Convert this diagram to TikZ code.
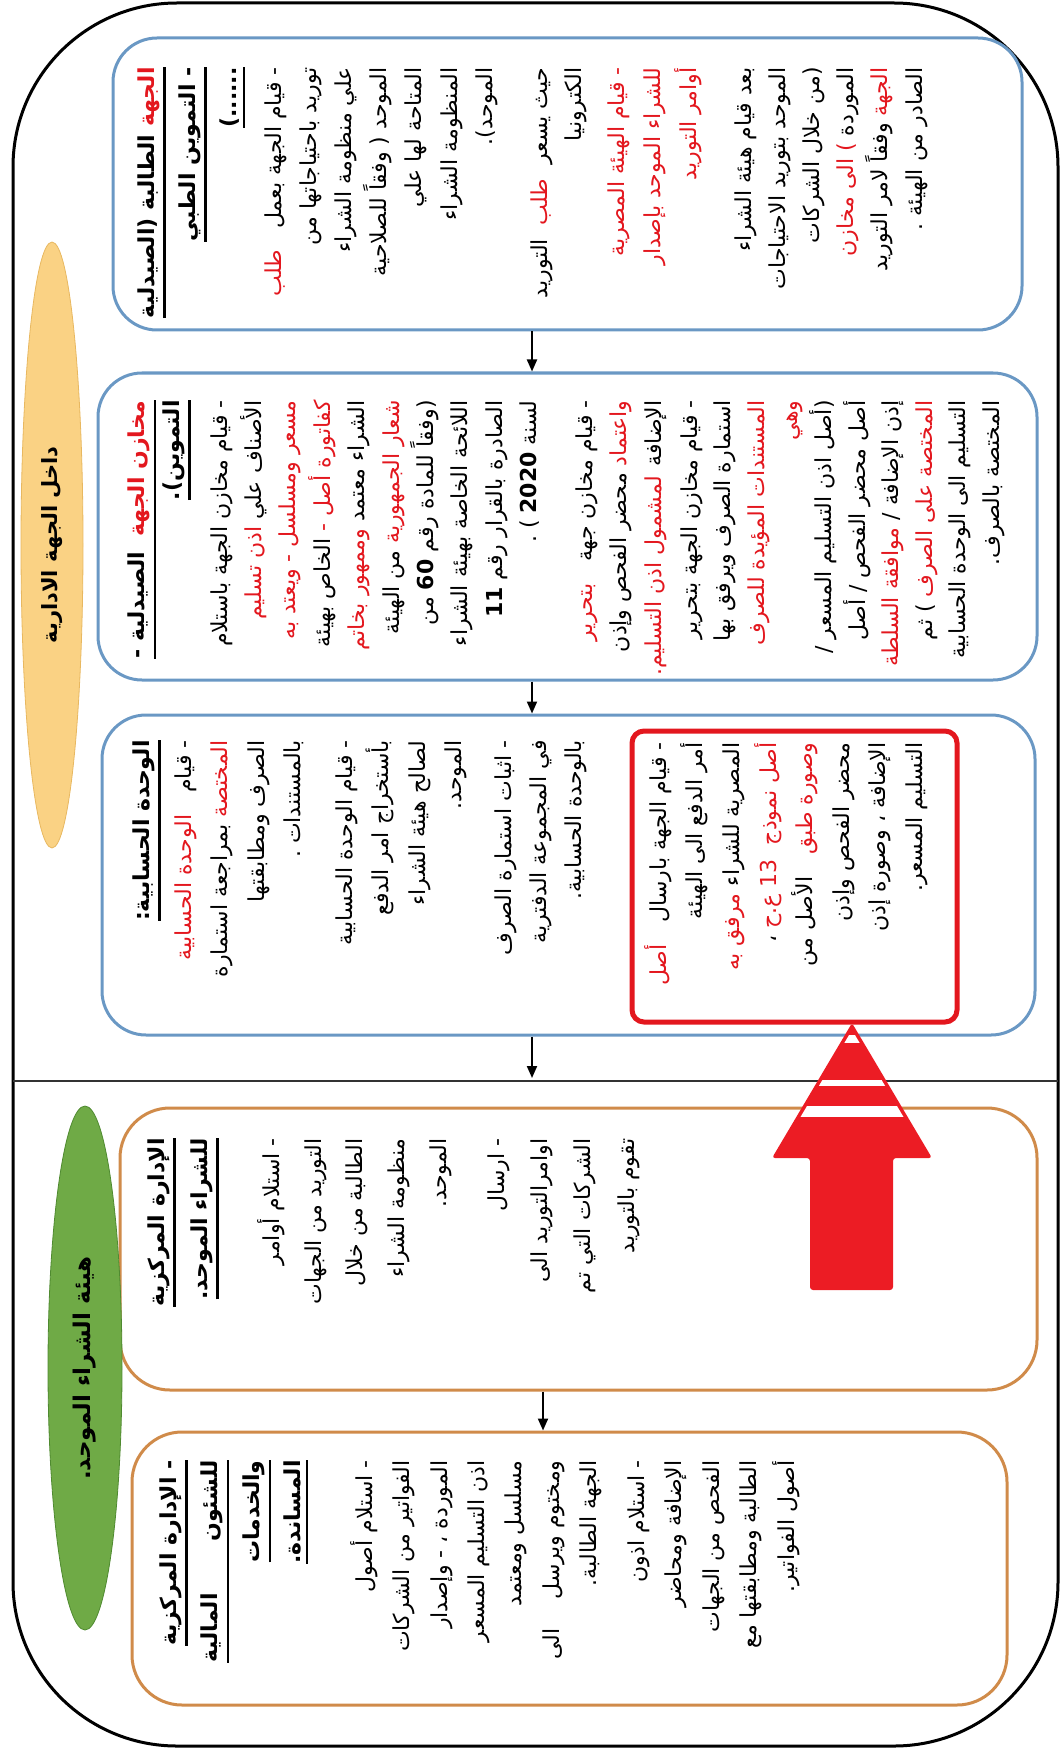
\documentclass[tikz,border=0pt]{standalone}
\usepackage{fontspec}
\usetikzlibrary{positioning,shapes.geometric,arrows.meta}
\TeXXeTstate=1
\newfontfamily\arfont[Script=Arabic]{DejaVu Sans}
\definecolor{arred}{HTML}{E3171E}
\definecolor{boxblue}{HTML}{6A98C4}
\definecolor{boxorange}{HTML}{D08B4A}
\definecolor{ovalyellow}{HTML}{FAD284}
\definecolor{ovalyellowline}{HTML}{E8B860}
\definecolor{ovalgreen}{HTML}{6FAA46}
\definecolor{ovalgreenline}{HTML}{4F8A30}
\definecolor{arrowred}{HTML}{EC1C24}
\newbox\ulbox
% one right-to-left run; runs of a mixed line are written in visual order
\newcommand\arl[1]{\beginR #1\endR}
\newcommand\redw[1]{\textcolor{arred}{\beginR #1\endR}}
\newcommand\uln[1]{\setbox\ulbox\hbox{#1}\vtop{\box\ulbox\kern2pt\hrule height 1.2pt}}

\begin{document}
\begin{tikzpicture}[x=0.5pt, y=-0.5pt]
\tikzstyle{bluebox}=[draw=boxblue, line width=1.5pt, rounded corners=22pt]
\tikzstyle{orangebox}=[draw=boxorange, line width=1.5pt, rounded corners=25pt]
\tikzstyle{redbox}=[draw=arred, line width=2.5pt, rounded corners=6pt]
\tikzstyle{flowarrow}=[line width=1pt, -{Triangle[length=6pt,width=5pt]}]
\tikzset{artext/.style={rotate=90, anchor=north east, align=right, inner sep=0pt,
  font=\arfont\fontsize{11}{#1}\selectfont}, artext/.default=17.5}
\tikzset{artitle/.style={artext=#1, font=\arfont\bfseries\fontsize{11}{#1}\selectfont},
  artitle/.default=17.5}
\useasboundingbox (0,0) rectangle (1064,1749);
% frame and divider
\draw[line width=1.5pt, rounded corners=82pt] (13,3) rectangle (1058,1746);
\draw[line width=0.8pt, black!80] (13,1081) -- (1058,1081);
% boxes
\node[bluebox, minimum width=454.5pt, minimum height=146pt] (A) at (567.5,184) {};
\node[bluebox, minimum width=469.5pt, minimum height=153.5pt] (B) at (567.5,526.5) {};
\node[bluebox, minimum width=466.5pt, minimum height=160pt] (C) at (568.5,875) {};
\node[redbox, minimum width=162.5pt, minimum height=145.5pt] (R) at (794.5,876.5) {};
\node[orangebox, minimum width=458.5pt, minimum height=141pt] (D) at (578.5,1249) {};
\node[orangebox, minimum width=437.5pt, minimum height=136.5pt] (E) at (569.5,1568.5) {};
% ovals
\node[ellipse, draw=ovalyellowline, fill=ovalyellow, minimum width=303pt, minimum height=31pt,
  rotate=90, font=\arfont\bfseries\fontsize{10.5}{13}\selectfont] (inside) at (52,545) {\arl{داخل الجهة الادارية}};
\node[ellipse, draw=ovalgreenline, fill=ovalgreen, minimum width=262pt, minimum height=37pt,
  rotate=90, font=\arfont\bfseries\fontsize{11.5}{14}\selectfont] (agency) at (85,1368) {\arl{هيئة الشراء الموحد.}};
% box A
\node[artitle=20.5] (a0) at (137,67) {\uln{\arl{الطالبة (الصيدلية} \redw{الجهة}}\\
  \uln{\arl{- التموين الطبي}}\\ \uln{\arl{......)}}};
\node[artext=17.6] (a1) at (264,67) {\redw{طلب}\ \ \ \arl{- قيام الجهة بعمل}\\
  \arl{توريد باحتياجاتها من}\\ \arl{علي منظومة الشراء}\\ \arl{الموحد ( وفقاً للصلاحية}\\
  \arl{المتاحة لها علي}\\ \arl{المنظومة الشراء}\\ \arl{الموحد).}};
\node[artext=17] (a2) at (530,67) {\arl{التوريد}\ \ \redw{طلب}\ \ \arl{حيث يسعر}\\ \arl{الكترونيا}};
\node[artext=18, text=arred] (a3) at (607,67) {\arl{- قيام الهيئة المصرية}\\
  \arl{للشراء الموحد بإصدار}\\ \arl{أوامر التوريد}};
\node[artext=17.1] (a4) at (734,67) {\arl{بعد قيام هيئة الشراء}\\ \arl{الموحد بتوريد الاحتياجات}\\
  \arl{(من خلال الشركات}\\ \redw{) الى مخازن} \arl{الموردة}\\
  \arl{وفقاً لامر التوريد} \redw{الجهة}\\ \arl{الصادر من الهيئة .}};
% box B
\node[artitle=17.5] (b0) at (127,400) {\uln{\arl{الصيدلية -}\ \ \redw{مخازن الجهة}}\\
  \uln{\arl{التموين).}}};
\node[artext=17.2] (b1) at (210,400) {\arl{- قيام مخازن الجهة باستلام}\\
  \redw{اذن تسليم} \arl{الأصناف علي}\\ \redw{مسعر ومسلسل - ويعتد به}\\
  \arl{الخاص بهيئة} \redw{كفاتورة أصل -}\\ \redw{وممهور بخاتم} \arl{الشراء معتمد}\\
  \arl{من الهيئة} \redw{شعار الجمهورية}\\ \arl{(وفقاً للمادة رقم \textbf{60} من}\\
  \arl{اللائحة الخاصة بهيئة الشراء}\\ \arl{الصادرة بالقرار رقم \textbf{11}}\\
  \arl{لسنة \textbf{2020} ) .}};
\node[artext=17.25] (b2) at (575,400) {\redw{بتحرير}\quad\arl{- قيام مخازن جهة}\\
  \arl{محضر الفحص وإذن} \redw{واعتماد}\\ \redw{لمشمول اذن التسليم.} \arl{الإضافة}};
\node[artext=16.8] (b3) at (680,400) {\arl{- قيام مخازن الجهة بتحرير}\\
  \arl{استمارة الصرف ويرفق بها}\\ \redw{المستندات المؤيدة للصرف}\\ \redw{وهي}\\
  \arl{(أصل اذن التسليم المسعر /}\\ \arl{أصل محضر الفحص / أصل}\\
  \redw{موافقة السلطة} \arl{إذن الإضافة /}\\ \arl{) ثم} \redw{المختصة على الصرف}\\
  \arl{التسليم الى الوحدة الحسابية}\\ \arl{المختصة بالصرف.}};
% box C
\node[artitle] (c0) at (132,740) {\uln{\arl{الوحدة الحسابية:}}};
\node[artext=18.3] (c1) at (174,740) {\redw{الوحدة الحسابية}\quad\arl{- قيام}\\
  \arl{بمراجعة استمارة} \redw{المختصة}\\ \arl{الصرف ومطابقتها}\\ \arl{بالمستندات .}};
\node[artext=18.3] (c2) at (335,740) {\arl{- قيام الوحدة الحسابية}\\ \arl{بأستخراج امر الدفع}\\
  \arl{لصالح هيئة الشراء}\\ \arl{الموحد.}};
\node[artext=17.5] (c3) at (494,740) {\arl{- اثبات استمارة الصرف}\\ \arl{في المجموعة الدفترية}\\
  \arl{بالوحدة الحسابية.}};
\node[artext=18.3] (c4) at (644,742) {\redw{أصل}\quad\arl{- قيام الجهة بارسال}\\
  \arl{أمر الدفع الى الهيئة}\\ \redw{مرفق به} \arl{المصرية للشراء}\\
  \arl{،} \redw{أصل نموذج \ 13 ع.ح}\\ \arl{الأصل من}\quad\redw{وصورة طبق}\\
  \arl{محضر الفحص وإذن}\\ \arl{الإضافة ، وصورة إذن}\\ \arl{التسليم المسعر.}};
% box D
\node[artitle=21.5] (d0) at (147,1138) {\uln{\arl{الإدارة المركزية}}\\ \uln{\arl{للشراء الموحد.}}};
\node[artext=20.9] (d1) at (257,1138) {\arl{- استلام أوامر}\\ \arl{التوريد من الجهات}\\
  \arl{الطالبة من خلال}\\ \arl{منظومة الشراء}\\ \arl{الموحد.}};
\node[artext=21.7] (d2) at (487,1138) {\arl{- ارسال}\\ \arl{اوامرالتوريد الى}\\
  \arl{الشركات التي تم}\\ \arl{تقوم بالتوريد}};
% box E
\node[artitle=20.8] (e0) at (159,1460) {\uln{\arl{- الإدارة المركزية}}\\
  \uln{\arl{للشئون \qquad المالية}}\\ \uln{\arl{والخدمات}}\\ \uln{\arl{المساندة.}}};
\node[artext=18.7] (e1) at (350,1460) {\arl{- استلام أصول}\\ \arl{الفواتير من الشركات}\\
  \arl{الموردة ، - وإصدار}\\ \arl{اذن التسليم المسعر}\\ \arl{مسلسل ومعتمد}\\
  \arl{ومختوم ويرسل \quad الى}\\ \arl{الجهة الطالبة.}};
\node[artext=18.75] (e2) at (627,1460) {\arl{- استلام اذون}\\ \arl{الإضافة ومحاضر}\\
  \arl{الفحص من الجهات}\\ \arl{الطالبة ومطابقتها مع}\\ \arl{أصول الفواتير.}};
% arrows
\coordinate (ax) at (532,0);
\coordinate (dx) at (543,0);
\coordinate (cd) at (532,1078);
\draw[flowarrow] (A.south -| ax) -- (B.north -| ax);
\draw[flowarrow] (B.south -| ax) -- (C.north -| ax);
\draw[flowarrow] (C.south -| ax) -- (cd);
\draw[flowarrow] (D.south -| dx) -- (E.north -| dx);
% big red arrow
\fill[arrowred, rounded corners=1.5pt] (852,1023) -- (932,1158) -- (893,1158) -- (893,1290)
  -- (810,1290) -- (810,1158) -- (772,1158) -- cycle;
\begin{scope}
\clip (852,1030) -- (926,1155) -- (778,1155) -- cycle;
\fill[white] (700,1035) rectangle (1000,1043);
\fill[white] (700,1080) rectangle (1000,1086);
\fill[white] (700,1106) rectangle (1000,1117);
\end{scope}
\end{tikzpicture}
\end{document}
